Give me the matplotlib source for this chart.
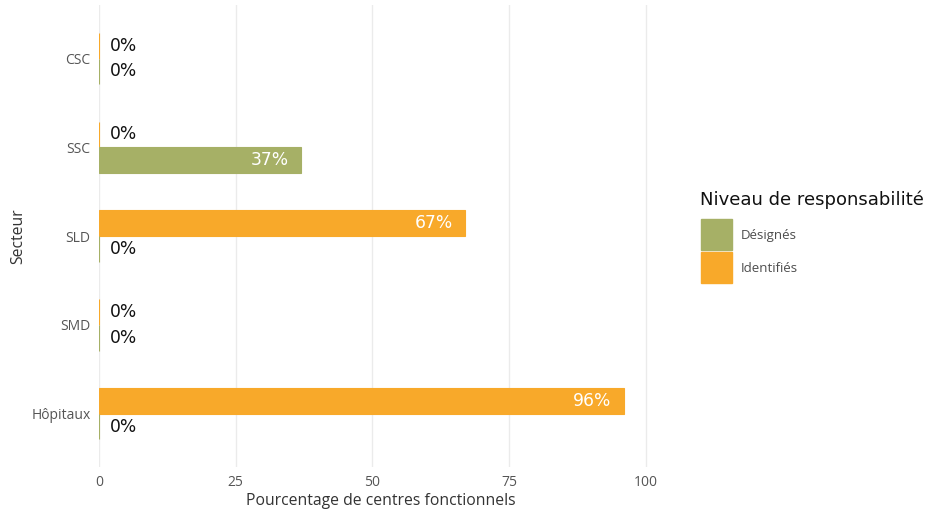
import matplotlib.pyplot as plt
import numpy as np

secteurs = ['Hôpitaux', 'SMD', 'SLD', 'SSC', 'CSC']
identifies = [96, 0, 67, 0, 0]
designes = [0, 0, 0, 37, 0]
ticks = [0, 25, 50, 75, 100]

green = '#A6B066'
orange = '#F8A92A'
tick_font = 'Open Sans'

fig = plt.figure(figsize=(9.46, 5.2), dpi=100)
ax = fig.add_axes([0.1047, 0.1019, 0.595, 0.888])

y = np.arange(len(secteurs))
h = 0.29

b_id = ax.barh(y + h / 2, identifies, height=h, color=orange, edgecolor=orange, linewidth=0.8)
b_de = ax.barh(y - h / 2, designes, height=h, color=green, edgecolor=green, linewidth=0.8)

for bars, vals in [(b_id, identifies), (b_de, designes)]:
    for bar, v in zip(bars, vals):
        yc = bar.get_y() + bar.get_height() / 2
        if v == 0:
            ax.text(2, yc, '0%', ha='left', va='center', fontsize=12.3, color='#111111')
        else:
            ax.text(v - 2.3, yc, f'{v}%', ha='right', va='center', fontsize=12.3, color='white')

ax.set_xlim(0, 103)
ax.set_ylim(-0.6, 4.6)
ax.set_xticks(ticks)
ax.set_yticks(y)
ax.set_yticklabels(secteurs)
ax.grid(axis='x', color='#EBEBEB', linewidth=1)
ax.set_axisbelow(True)
for s in ax.spines.values():
    s.set_visible(False)
ax.tick_params(length=0, labelsize=10, labelcolor='#555555', pad=6)
for lab in ax.get_xticklabels() + ax.get_yticklabels():
    lab.set_family(tick_font)
ax.set_xlabel('Pourcentage de centres fonctionnels', fontsize=11.3, color='#333333', family=tick_font, labelpad=2)
ax.set_ylabel('Secteur', fontsize=11.3, color='#333333', family=tick_font, labelpad=4)

# legend
fig.text(700 / 946, 1 - 200 / 520, 'Niveau de responsabilité', fontsize=13, color='#111111', va='center', ha='left')
for i, (lab, col) in enumerate([('Désignés', green), ('Identifiés', orange)]):
    top = 219 + i * 33
    fig.patches.append(plt.Rectangle((701 / 946, 1 - (top + 31) / 520), 31 / 946, 31 / 520,
                                     transform=fig.transFigure, color=col, figure=fig))
    fig.text(741 / 946, 1 - (top + 16) / 520, lab, fontsize=9.5, color='#4D4D4D', va='center', ha='left',
             family=tick_font)

fig.savefig('out.png', dpi=100)
